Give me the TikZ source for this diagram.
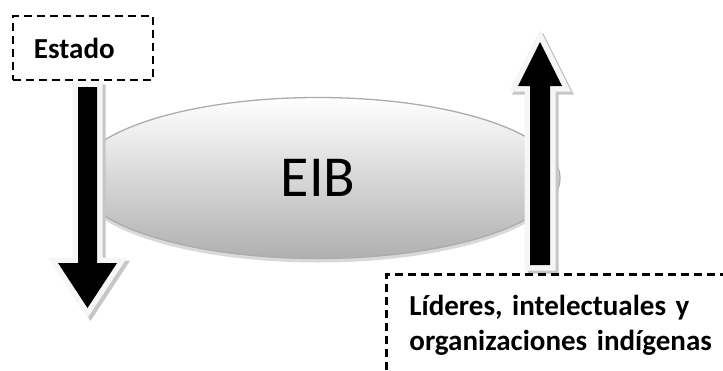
\documentclass[tikz,border=0pt]{standalone}
\usepackage{fontspec}
\setmainfont{Carlito}
\usetikzlibrary{shapes.geometric}

\tikzset{
  dashbox/.style={draw, line width=2.8pt, dash pattern=on 8pt off 5pt,
    font=\bfseries\fontsize{29}{35}\selectfont, align=left},
  blockarrow/.style={fill=black,
    preaction={fill=gray!45, draw=gray!45, line width=11pt,
      transform canvas={shift={(3pt,-3pt)}}},
    preaction={fill=gray!7, draw=gray!7, line width=11pt}},
}

\begin{document}
\begin{tikzpicture}[x=1pt,y=-1pt]
\path[use as bounding box, clip] (0,0) rectangle (723,370);
\node[ellipse, draw=gray!65, line width=1.3pt, top color=white, bottom color=gray!62,
  minimum width=484pt, minimum height=161pt, inner sep=0pt,
  font=\fontsize{58}{60}\selectfont,
  preaction={fill=gray!30, transform canvas={yshift=-4pt}}] (eib) at (318,178) {EIB};
% flecha del Estado hacia abajo
\coordinate (downTip) at (87.5,308);
\path[blockarrow, shift={(downTip)}] (-9.5,-221) -- (9.5,-221) -- (9.5,-45) -- (29.5,-45)
  -- (0,0) -- (-29.5,-45) -- (-9.5,-45) -- cycle;
% flecha hacia arriba
\coordinate (upTip) at (540,42);
\path[blockarrow, shift={(upTip)}] (-10,223) -- (10,223) -- (10,44) -- (22,44)
  -- (0,0) -- (-22,44) -- (-10,44) -- cycle;
\node[dashbox, minimum width=140pt, minimum height=64pt, text width=98pt,
  inner xsep=21pt] (estado) at (83,48) {Estado};
\node[dashbox, anchor=north west, inner xsep=23pt, inner ysep=21pt, text width=340pt]
  (lideres) at (385,273) {Líderes, intelectuales y\\organizaciones indígenas};
\end{tikzpicture}
\end{document}
